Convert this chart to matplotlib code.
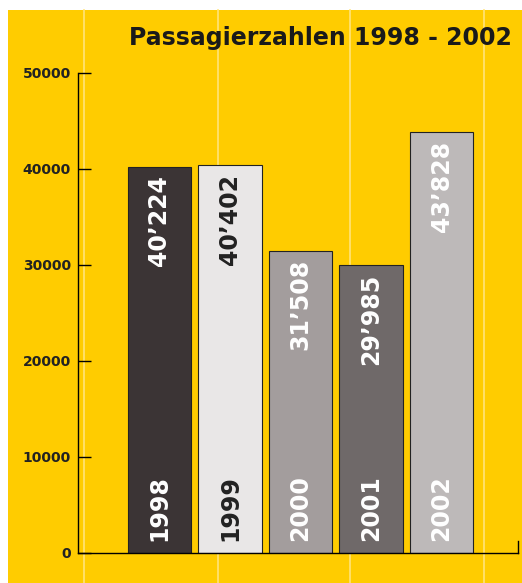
import matplotlib.pyplot as plt
import matplotlib.patches as mpatches

# Data
jahre = ['1998', '1999', '2000', '2001', '2002']
passagiere = [40224, 40402, 31508, 29985, 43828]
labels = ["40’224", "40’402", "31’508", "29’985", "43’828"]
farben = ['#3b3435', '#e9e7e7', '#a39d9d', '#6f6969', '#bdb9b9']
textfarben = ['white', '#222222', 'white', 'white', 'white']
yticks = [0, 10000, 20000, 30000, 40000, 50000]

W, H = 522, 583
fig = plt.figure(figsize=(W / 100, H / 100), dpi=100)
fig.patch.set_facecolor('white')

# Gelber Hintergrund
bg = mpatches.Rectangle((8 / W, 0), 1 - 8 / W, 1 - 10 / H, transform=fig.transFigure,
                        facecolor='#ffcc00', edgecolor='none', zorder=0)
fig.patches.append(bg)
for xp in [84, 218, 350, 484]:
    fig.add_artist(plt.Line2D([xp / W, xp / W], [0, 1 - 10 / H], transform=fig.transFigure,
                              color='#ffe37a', lw=1.2, zorder=0.5))

font = dict(family='DejaVu Sans', weight='bold')

ax = fig.add_axes([78 / W, 1 - 553 / H, (518 - 78) / W, (553 - 73) / H])
ax.set_zorder(2)
ax.set_facecolor('none')
x = list(range(len(jahre)))
ax.bar(x, passagiere, width=0.9, color=farben, edgecolor='#222222', linewidth=0.8, zorder=2)

for i in x:
    ax.text(i, passagiere[i] - 900, labels[i], rotation=90, ha='center', va='top',
            color=textfarben[i], fontsize=17, **font, zorder=3)
    ax.text(i, 1300, jahre[i], rotation=90, ha='center', va='bottom',
            color=textfarben[i], fontsize=17, **font, zorder=3)

ax.set_xlim(-1.156, 5.085)
ax.set_ylim(0, 50000)
ax.set_yticks(yticks)
ax.set_yticklabels([str(v) for v in yticks], fontsize=10, **font, color='#222222')
ax.set_xticks([])
ax.tick_params(axis='y', direction='in', length=9, width=1, pad=5)
for s in ['top', 'right']:
    ax.spines[s].set_visible(False)
ax.spines['left'].set_linewidth(1)
ax.spines['bottom'].set_linewidth(1)
ax.plot([5.085, 5.085], [0, 1200], color='black', lw=1, clip_on=False)

fig.text(512 / W, 1 - 38 / H, 'Passagierzahlen 1998 - 2002', ha='right', va='center',
         fontsize=17, color='#1a1a1a', **font)

fig.savefig('out.png', dpi=100, facecolor=fig.get_facecolor())
